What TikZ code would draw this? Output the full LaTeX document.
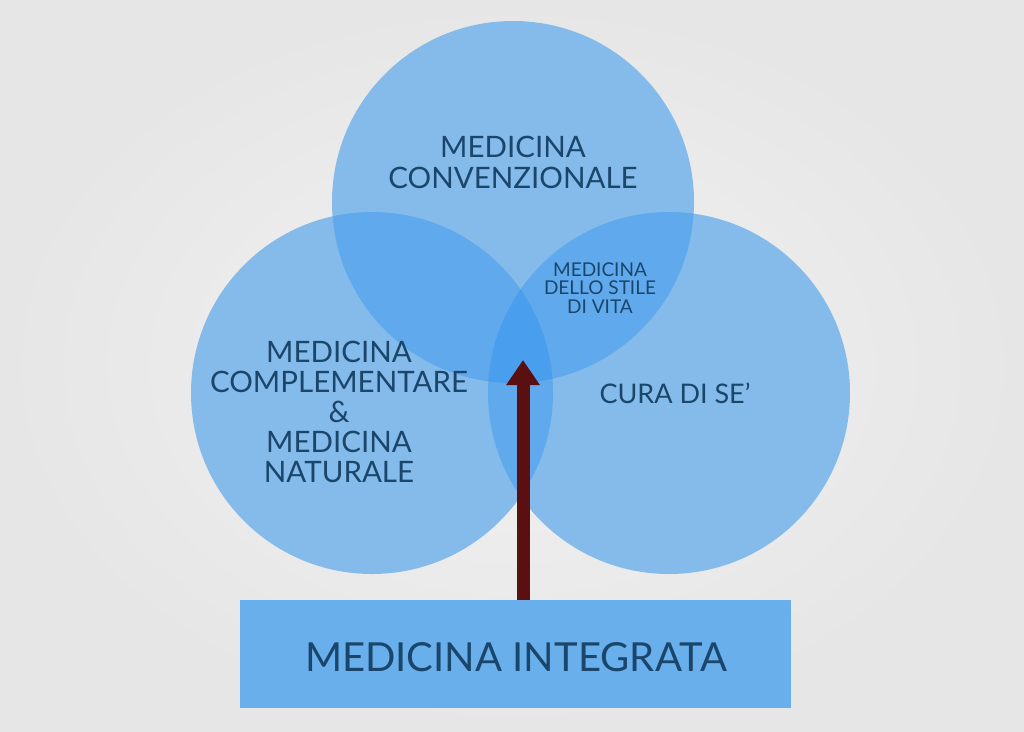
\documentclass[tikz,border=0pt]{standalone}
\usepackage{fontspec}
\setmainfont{Lato}
\usetikzlibrary{arrows.meta}
\definecolor{bgc}{HTML}{E6E6E7}
\definecolor{bgin}{HTML}{F2F2F3}
\definecolor{c1}{HTML}{85BBEA}
\definecolor{c2}{HTML}{5FA9EC}
\definecolor{c3}{HTML}{4A9EEE}
\definecolor{boxc}{HTML}{68AFEC}
\definecolor{txt}{HTML}{1A466B}
\definecolor{arr}{HTML}{5A1010}
\tikzset{
  lab/.style={text=txt,align=center,inner sep=0pt},
}
\begin{document}
\begin{tikzpicture}[x=1pt,y=-1pt]
\useasboundingbox (0,0) rectangle (1024,731);
\shade[inner color=bgin,outer color=bgc] (0,0) rectangle (1024,731);
\coordinate (ct) at (513,202);
\coordinate (cl) at (372,393);
\coordinate (cr) at (669,393);
\def\R{181}
% circles
\fill[c1] (ct) circle[radius=\R];
\fill[c1] (cl) circle[radius=\R];
\fill[c1] (cr) circle[radius=\R];
% pairwise overlaps
\begin{scope}
  \clip (ct) circle[radius=\R];
  \fill[c2] (cl) circle[radius=\R];
  \fill[c2] (cr) circle[radius=\R];
\end{scope}
\begin{scope}
  \clip (cl) circle[radius=\R];
  \fill[c2] (cr) circle[radius=\R];
\end{scope}
\begin{scope}
  \clip (ct) circle[radius=\R];
  \clip (cl) circle[radius=\R];
  \fill[c3] (cr) circle[radius=\R];
\end{scope}
% box
\node[fill=boxc,minimum width=551pt,minimum height=108pt,inner sep=0pt] (box) at (515.5,654) {};
\node[lab,font=\fontsize{40}{40}\selectfont] (tint) at (516,657) {MEDICINA INTEGRATA};
% labels
\node[lab,font=\fontsize{29.5}{31}\selectfont] (tconv) at (513,162) {MEDICINA\\CONVENZIONALE};
\node[lab,font=\fontsize{19}{18.5}\selectfont] (tstile) at (600,288) {MEDICINA\\DELLO STILE\\DI VITA};
\node[lab,font=\fontsize{29.5}{30.2}\selectfont] (tcomp) at (339,412) {MEDICINA\\COMPLEMENTARE\\\&\\MEDICINA\\NATURALE};
\node[lab,font=\fontsize{27}{30}\selectfont] (tcura) at (675,393) {CURA DI SE’};
% arrow
\coordinate (atip) at (523,360);
\draw[arr,line width=13pt,-{Triangle[width=32pt,length=25pt]}] (atip |- box.north) -- (atip);
\end{tikzpicture}
\end{document}
